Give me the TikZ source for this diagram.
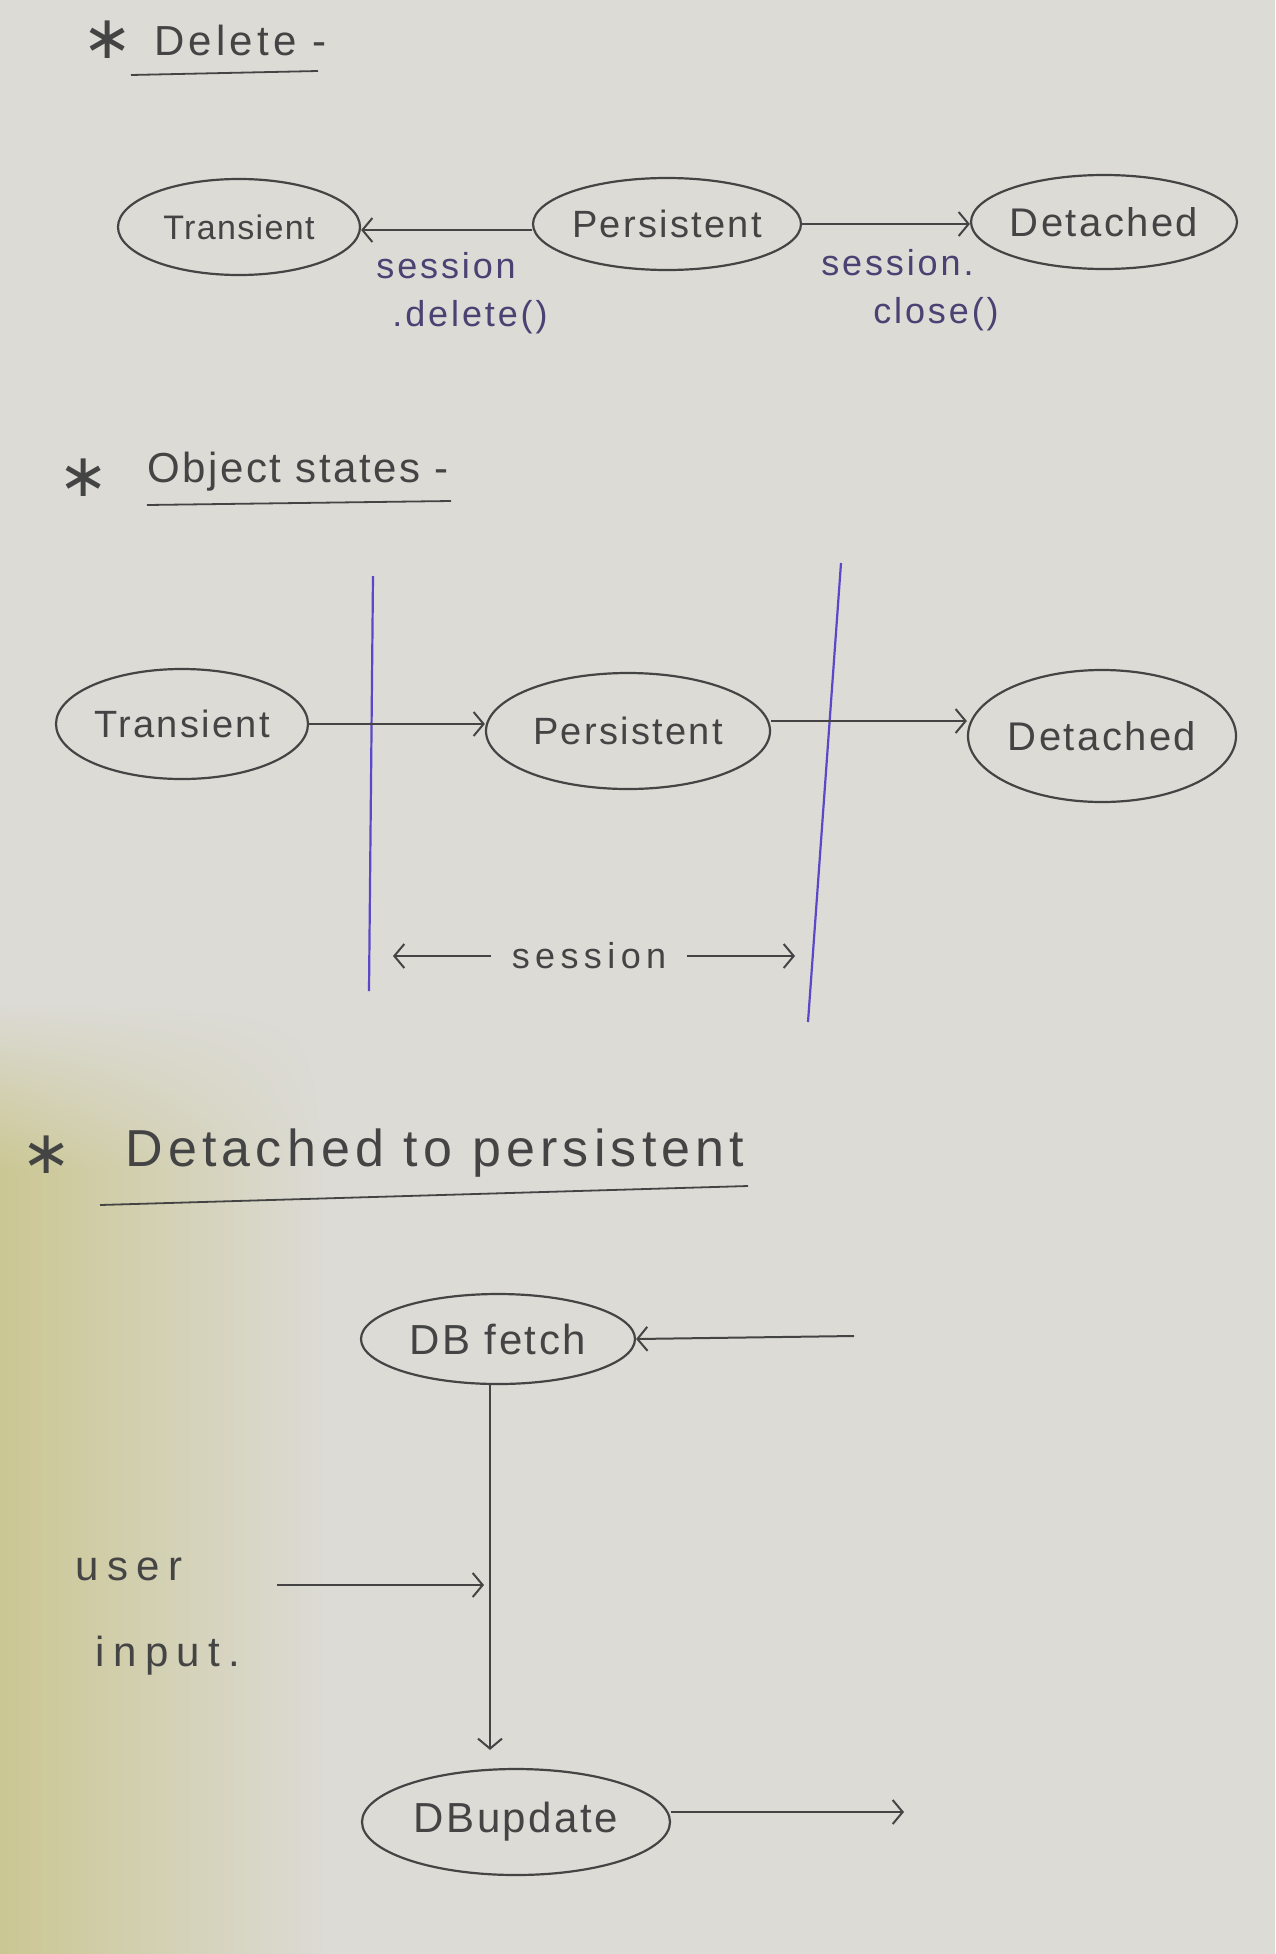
\documentclass[tikz,border=0pt]{standalone}
\usepackage{fontspec}
\setmainfont{Liberation Sans}
\newfontfamily\symfont{DejaVu Sans}
\usetikzlibrary{shapes.geometric,arrows.meta,shadings}

\definecolor{paper}{HTML}{DCDBD6}
\definecolor{paperyel}{HTML}{CBC793}
\definecolor{pencil}{HTML}{444444}
\definecolor{ink}{HTML}{5A48C8}
\definecolor{inkdark}{HTML}{4A4272}

% handwriting-ish text: {letter spacing}{size}
\newcommand\hw[2]{\fontsize{#2}{#2}\selectfont\addfontfeatures{LetterSpace=#1}}

\tikzset{
  state/.style={ellipse, draw=pencil, line width=1.1pt, inner sep=0pt,
                text=pencil, font=\hw{6}{19}},
  flow/.style={draw=pencil, line width=1pt,
               -{Straight Barb[length=5pt,width=12pt,line width=1pt]}},
  heading/.style={text=pencil, anchor=west, inner sep=0pt},
  star/.style={text=pencil, inner sep=0pt, font=\symfont\fontsize{30}{30}\selectfont},
  uline/.style={draw=pencil, line width=0.9pt},
  note/.style={text=inkdark, inner sep=0pt, font=\hw{8}{18}},
  divider/.style={draw=ink, line width=1.1pt},
  plain/.style={text=pencil, inner sep=0pt},
}

\begin{document}
\begin{tikzpicture}[x=0.5pt,y=-0.5pt]
  % sheet of paper
  \fill[paper] (0,0) rectangle (1275,1954);
  \shade[upper left=paper, upper right=paper, lower left=paperyel, lower right=paper]
    (0,1000) rectangle (330,1170);
  \shade[left color=paperyel, right color=paper] (0,1170) rectangle (330,1954);
  \useasboundingbox (0,0) rectangle (1275,1954);

  % ---------------- Delete ----------------
  \node[star] (s1) at (108,40) {∗};
  \node[heading, font=\hw{10}{21}] (h1) at (154,40) {Delete -};
  \coordinate (h1a) at (131,75);
  \coordinate (h1b) at (318,71);
  \draw[uline] (h1a) -- (h1b);

  \node[state, minimum width=121pt, minimum height=48pt, font=\hw{4}{17}] (t1) at (239,227) {Transient};
  \node[state, minimum width=131pt, minimum height=46pt] (p1) at (667,224) {Persistent};
  \node[state, minimum width=126pt, minimum height=47pt, font=\hw{6}{20}] (d1) at (1104,222) {Detached};

  \draw[flow] ([yshift=-3pt]p1.west) -- ([yshift=-3pt]p1.west -| t1.east);
  \draw[flow] (p1.east) -- (p1.east -| d1.west);

  \node[note, align=left] (l1) at (462,293) {session\\[6pt]\hspace{8pt}.delete()};
  \node[note, align=left] (l2) at (910,290) {session.\\[6pt]\hspace{26pt}close()};

  % ---------------- Object states ----------------
  \node[star] (s2) at (84,478) {∗};
  \node[heading, font=\hw{6}{21}] (h2) at (147,472) {Object states -};
  \coordinate (h2a) at (147,505);
  \coordinate (h2b) at (451,501);
  \draw[uline] (h2a) -- (h2b);

  \node[state, minimum width=126pt, minimum height=55pt] (t2) at (182,724) {Transient};
  \node[state, minimum width=142pt, minimum height=58pt] (p2) at (628,731) {Persistent};
  \node[state, minimum width=134pt, minimum height=66pt, font=\hw{6}{20}] (d2) at (1102,736) {Detached};

  \coordinate (v1a) at (373,576);
  \coordinate (v1b) at (369,991);
  \coordinate (v2a) at (841,563);
  \coordinate (v2b) at (808,1022);
  \draw[divider] (v1a) -- (v1b);
  \draw[divider] (v2a) -- (v2b);

  \draw[flow] (t2.east) -- (t2.east -| p2.west);
  \draw[flow] ([yshift=5pt]p2.east) -- ([yshift=5pt]p2.east -| d2.west);

  \node[plain, font=\hw{15}{18}] (ses) at (589,956) {session};
  \coordinate (sesl) at (393,956);
  \coordinate (sesr) at (795,956);
  \draw[flow, shorten <=10pt] (ses.west) -- (sesl);
  \draw[flow, shorten <=10pt] (ses.east) -- (sesr);

  % ---------------- Detached to persistent ----------------
  \node[star] (s3) at (47,1155) {∗};
  \node[heading, font=\hw{10}{26}] (h3) at (125,1153) {Detached to persistent};
  \coordinate (h3a) at (100,1205);
  \coordinate (h3b) at (748,1186);
  \draw[uline] (h3a) -- (h3b);

  \node[state, minimum width=137pt, minimum height=45pt, font=\hw{6}{21}] (f) at (498,1339) {DB fetch};
  \node[state, minimum width=154pt, minimum height=53pt, font=\hw{6}{21}] (u) at (516,1822) {DBupdate};

  \coordinate (fin) at (854,1336);
  \draw[flow] (fin) -- (f.east);

  \draw[flow, shorten >=9pt] ([xshift=-4pt]f.south) -- ([xshift=-4pt]f.south |- u.north);

  \node[plain, align=left, font=\hw{20}{21}] (ui) at (158,1617) {user\\[22pt]\hspace{10pt}input.};
  \coordinate (uia) at (277,1585);
  \draw[flow, shorten >=7pt] (uia) -- (uia -| f.south);

  \coordinate (uout) at (904,1812);
  \draw[flow] ([yshift=5pt]u.east) -- (uout);
\end{tikzpicture}
\end{document}
